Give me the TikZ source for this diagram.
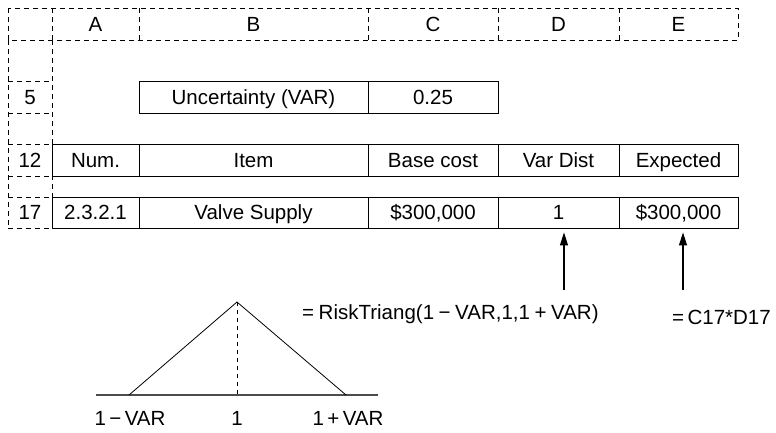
\documentclass[tikz,border=0pt]{standalone}
\usepackage{fontspec}
\setmainfont{Liberation Sans}
\usetikzlibrary{arrows.meta}

\begin{document}
\begin{tikzpicture}[x=1pt,y=-1pt,
  font=\fontsize{20.5}{24}\selectfont,
  every node/.style={text height=14.7pt, text depth=0pt},
  cell/.style={draw, line width=0.8pt, minimum height=32pt, inner sep=0pt},
  grid/.style={dash pattern=on 5pt off 4pt, line width=0.8pt},
  pointer/.style={line width=1.1pt, shorten >=4pt, -{Triangle[length=13pt, width=8pt]}}]
\useasboundingbox (0,0) rectangle (776,432);
% sheet frame
\draw[grid] (8,8) rectangle (738,40);
\foreach \x in {52,139,368,498,619} \draw[grid] (\x,8) -- (\x,40);
\draw[grid] (8,40) -- (8,228) (52,40) -- (52,228);
\foreach \y in {81,113,144,176,197,228} \draw[grid] (8,\y) -- (52,\y);
\node (colA) at (95.5,24) {A};
\node (colB) at (253.5,24) {B};
\node (colC) at (433,24) {C};
\node (colD) at (558.5,24) {D};
\node (colE) at (678.5,24) {E};
\node (row5) at (30,97) {5};
\node (row12) at (30,160) {12};
\node (row17) at (30,212.5) {17};
% cells
\node[cell, minimum width=229pt] (uncB) at (253.5,97) {Uncertainty (VAR)};
\node[cell, minimum width=130pt] (uncC) at (433,97) {0.25};
\node[cell, minimum width=87pt] (hdA) at (95.5,160) {Num.};
\node[cell, minimum width=229pt] (hdB) at (253.5,160) {Item};
\node[cell, minimum width=130pt] (hdC) at (433,160) {Base cost};
\node[cell, minimum width=121pt] (hdD) at (558.5,160) {Var Dist};
\node[cell, minimum width=119pt] (hdE) at (678.5,160) {Expected};
\node[cell, minimum width=87pt, minimum height=31pt] (vA) at (95.5,212.5) {2.3.2.1};
\node[cell, minimum width=229pt, minimum height=31pt] (vB) at (253.5,212.5) {Valve Supply};
\node[cell, minimum width=130pt, minimum height=31pt] (vC) at (433,212.5) {\$300,000};
\node[cell, minimum width=121pt, minimum height=31pt] (vD) at (558.5,212.5) {1};
\node[cell, minimum width=119pt, minimum height=31pt] (vE) at (678.5,212.5) {\$300,000};
% formulas
\coordinate (tailD) at (564,290);
\coordinate (tailE) at (683,290);
\draw[pointer] (tailD) -- (tailD |- vD.south);
\draw[pointer] (tailE) -- (tailE |- vE.south);
\node[anchor=west, inner sep=0pt] (riskF) at (302,312) {=\:RiskTriang(1\:−\:VAR,1,1\:+\:VAR)};
\node[anchor=west, inner sep=0pt] (prodF) at (672,317) {=\,C17*D17};
% triangular distribution
\coordinate (lo) at (129,395);
\coordinate (peak) at (237,302);
\coordinate (hi) at (346,395);
\draw[black!70, line width=1.5pt] (96,395) -- (378,395);
\draw[line width=0.8pt] (lo) -- (peak) -- (hi);
\draw[dash pattern=on 4pt off 4pt, line width=0.8pt] (peak) -- (peak |- lo);
\node (loL) at (130,418) {1\,−\,VAR};
\node (midL) at (237,418) {1};
\node (hiL) at (348,418) {1\,+\,VAR};
\end{tikzpicture}
\end{document}
